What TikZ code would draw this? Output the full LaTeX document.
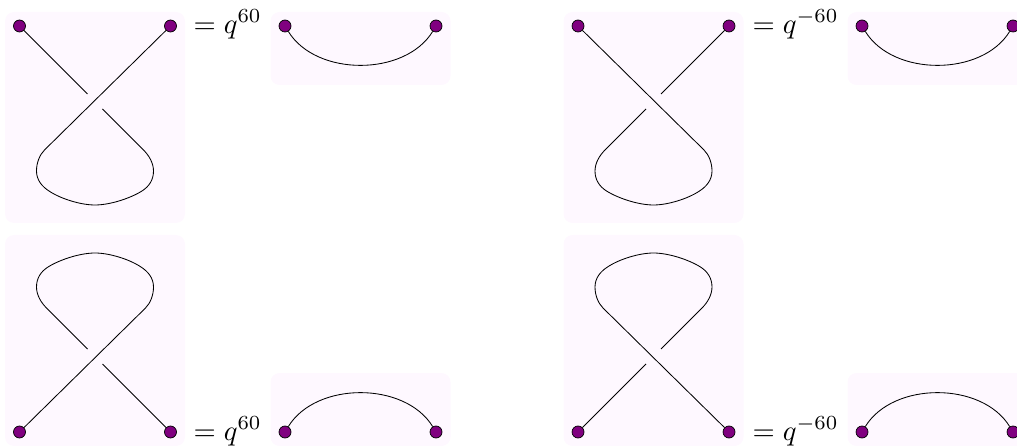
\documentclass[tikz,border=0pt]{standalone}
\definecolor{panelbg}{HTML}{FEF8FF}
\definecolor{dotpurple}{HTML}{800080}
\tikzset{
  panelbox/.style={fill=panelbg,draw=none,rounded corners=9pt},
  strand/.style={draw=black,line width=0.85pt,line join=round},
  enddot/.style={circle,draw=black,fill=dotpurple,line width=0.7pt,minimum size=12pt,inner sep=0pt},
  eqlabel/.style={anchor=base west,inner sep=0pt,scale=2.86},
  knot/.pic={
    \fill[panelbox] (-90,-217) rectangle (90,-6);
    \node[enddot] (-a) at (-75.5,-203) {};
    \node[enddot] (-b) at (75.5,-203) {};
    \coordinate (-u) at (-7.5,-135);
    \coordinate (-v) at (7.5,-120);
    \coordinate (-l) at (-50.5,-79);
    \coordinate (-r) at (48.5,-79);
    \draw[strand] (-a) -- (-u);
    \draw[strand] (-b) -- (-l)
      .. controls (-55.5,-74) and (-58.5,-66) .. (-58.5,-58)
      .. controls (-58.5,-49) and (-53,-42.5) .. (-46,-38)
      .. controls (-34,-30) and (-14,-24) .. (0,-24)
      .. controls (14,-24) and (34,-30) .. (47,-38)
      .. controls (54,-42.5) and (58.5,-49) .. (58.5,-58)
      .. controls (58.5,-66) and (54,-73.5) .. (-r)
      -- (-v);
  },
  capcurve/.pic={
    \fill[panelbox] (-90,-217) rectangle (90,-144);
    \node[enddot] (-a) at (-75.5,-203) {};
    \node[enddot] (-b) at (75.5,-203) {};
    \draw[strand] (-a) .. controls (-44.5,-152.3) and (44.5,-152.3) .. (-b);
  }
}
\begin{document}
\begin{tikzpicture}[x=1pt,y=-1pt]
\useasboundingbox (0,0) rectangle (1017,446);
\pic (k1) at (95,229) {knot};
\pic (k2) at (653.5,229) [xscale=-1] {knot};
\pic (k3) at (95,229) [xscale=-1,yscale=-1] {knot};
\pic (k4) at (653.5,229) [yscale=-1] {knot};
\pic (c1) at (360.5,229) {capcurve};
\pic (c2) at (937.5,229) {capcurve};
\pic (c3) at (360.5,229) [yscale=-1] {capcurve};
\pic (c4) at (937.5,229) [yscale=-1] {capcurve};
\node[eqlabel] (e1) at (193,33.3) {$=q^{60}$};
\node[eqlabel] (e2) at (752,33.3) {$=q^{-60}$};
\node[eqlabel] (e3) at (193,440.3) {$=q^{60}$};
\node[eqlabel] (e4) at (752,440.3) {$=q^{-60}$};
\end{tikzpicture}
\end{document}
